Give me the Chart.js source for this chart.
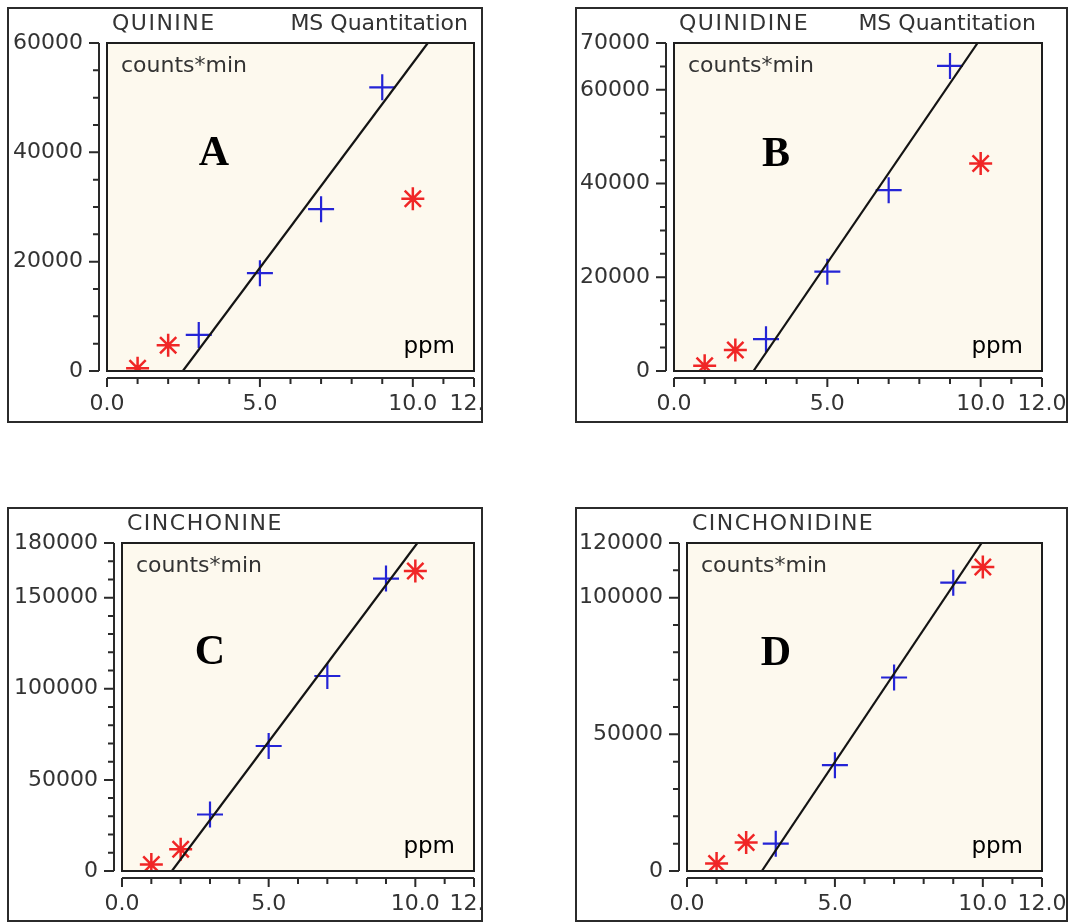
<!DOCTYPE html>
<html>
<head>
<meta charset="utf-8">
<script src="https://cdn.jsdelivr.net/npm/chart.js@4"></script>
<style>
  body { margin: 0; background: #fff; width: 1069px; height: 923px; position: relative; overflow: hidden; }
  .panel { position: absolute; border: 2px solid #2b2b2b; background: #fff; overflow: hidden; box-sizing: border-box; }
  .panel canvas { display: block; }
</style>
</head>
<body>
<div class="panel" id="pA"><canvas id="cA"></canvas></div>
<div class="panel" id="pB"><canvas id="cB"></canvas></div>
<div class="panel" id="pC"><canvas id="cC"></canvas></div>
<div class="panel" id="pD"><canvas id="cD"></canvas></div>
<script>
// concentrations (ppm)
const xTicks = [0, 5, 10, 12];
const starX = [1, 2, 10];       // red stars (excluded points)
const plusX = [3, 5, 7, 9];     // blue crosses (calibration points)

// QUININE
const quinineStar = [500, 4700, 31500];
const quininePlus = [6600, 17900, 29600, 51900];
const quinineFitX = [2.48, 10.49];
const quinineFitY = [0, 60000];
const quinineTicks = [0, 20000, 40000, 60000];

// QUINIDINE
const quinidineStar = [1100, 4500, 44300];
const quinidinePlus = [6800, 21200, 38600, 65100];
const quinidineFitX = [2.59, 9.9];
const quinidineFitY = [0, 70000];
const quinidineTicks = [0, 20000, 40000, 60000, 70000];

// CINCHONINE
const cinchonineStar = [3500, 11900, 164600];
const cinchoninePlus = [31000, 68600, 107000, 160500];
const cinchonineFitX = [1.70, 10.07];
const cinchonineFitY = [0, 180000];
const cinchonineTicks = [0, 50000, 100000, 150000, 180000];

// CINCHONIDINE
const cinchonidineStar = [2700, 10400, 111200];
const cinchonidinePlus = [10000, 38700, 70800, 105500];
const cinchonidineFitX = [2.53, 9.96];
const cinchonidineFitY = [0, 120000];
const cinchonidineTicks = [0, 50000, 100000, 120000];

// layout: frame and plot area in page pixels
const panels = [
  { id: 'A', name: 'QUININE', sub: 'MS Quantitation', frame: [7, 7, 483, 423], area: [107, 43, 474, 371],
    letterAt: [107, 111], star: quinineStar, plus: quininePlus, fitX: quinineFitX, fitY: quinineFitY,
    yTicks: quinineTicks, yMax: 60000, yMinor: 5000 },
  { id: 'B', name: 'QUINIDINE', sub: 'MS Quantitation', frame: [575, 7, 1068, 423], area: [674, 43, 1042, 371],
    letterAt: [102, 112], star: quinidineStar, plus: quinidinePlus, fitX: quinidineFitX, fitY: quinidineFitY,
    yTicks: quinidineTicks, yMax: 70000, yMinor: 5000 },
  { id: 'C', name: 'CINCHONINE', sub: '', frame: [7, 507, 483, 922], area: [122, 543, 474, 871],
    letterAt: [88, 110], star: cinchonineStar, plus: cinchoninePlus, fitX: cinchonineFitX, fitY: cinchonineFitY,
    yTicks: cinchonineTicks, yMax: 180000, yMinor: 10000 },
  { id: 'D', name: 'CINCHONIDINE', sub: '', frame: [575, 507, 1068, 922], area: [687, 543, 1042, 871],
    letterAt: [89, 111], star: cinchonidineStar, plus: cinchonidinePlus, fitX: cinchonidineFitX, fitY: cinchonidineFitY,
    yTicks: cinchonidineTicks, yMax: 120000, yMinor: 10000 }
];

const sans = "'DejaVu Sans', sans-serif";

function framePlugin(p) {
  return {
    id: 'frame' + p.id,
    beforeDraw(chart) {
      const a = chart.chartArea, ctx = chart.ctx;
      ctx.save();
      ctx.fillStyle = '#fdf9ee';
      ctx.fillRect(a.left, a.top, a.right - a.left, a.bottom - a.top);
      ctx.restore();
    },
    afterDatasetsDraw(chart) {
      const a = chart.chartArea, ctx = chart.ctx;
      const xs = chart.scales.x, ys = chart.scales.y;
      ctx.save();
      ctx.strokeStyle = '#1e1e1e';
      ctx.lineWidth = 2;
      ctx.strokeRect(a.left, a.top, a.right - a.left, a.bottom - a.top);

      // offset y axis
      ctx.strokeStyle = '#2a2a2a';
      const yx = a.left - 8;
      ctx.beginPath();
      ctx.moveTo(yx, ys.getPixelForValue(p.yMax));
      ctx.lineTo(yx, ys.getPixelForValue(0));
      for (let v = 0; v <= p.yMax; v += p.yMinor) {
        const py = ys.getPixelForValue(v);
        const len = p.yTicks.includes(v) ? 10 : 6;
        ctx.moveTo(yx, py);
        ctx.lineTo(yx - len, py);
      }
      // offset x axis
      const xy = a.bottom + 7;
      ctx.moveTo(xs.getPixelForValue(0), xy);
      ctx.lineTo(xs.getPixelForValue(12), xy);
      for (let v = 0; v <= 12; v++) {
        const px = xs.getPixelForValue(v);
        const len = xTicks.includes(v) ? 9 : 6;
        ctx.moveTo(px, xy);
        ctx.lineTo(px, xy + len);
      }
      ctx.stroke();

      // texts
      ctx.textBaseline = 'middle';
      ctx.fillStyle = '#333';
      ctx.font = '22px ' + sans;
      ctx.textAlign = 'left';
      ctx.letterSpacing = '1.5px';
      ctx.fillText(p.name, a.left + 5, a.top - 19);
      ctx.letterSpacing = '0px';
      if (p.sub) {
        ctx.textAlign = 'right';
        ctx.fillText(p.sub, a.right - 6, a.top - 19);
      }
      ctx.textAlign = 'left';
      ctx.fillText('counts*min', a.left + 14, a.top + 23);
      ctx.fillStyle = '#000';
      ctx.font = '23px ' + sans;
      ctx.textAlign = 'right';
      ctx.fillText('ppm', a.right - 19, a.bottom - 24);
      ctx.textAlign = 'center';
      ctx.font = "bold 42px 'Liberation Serif', serif";
      ctx.fillText(p.id, a.left + p.letterAt[0], a.top + p.letterAt[1]);
      ctx.restore();
    }
  };
}

function makePanel(p) {
  const div = document.getElementById('p' + p.id);
  const canvas = document.getElementById('c' + p.id);
  const [fx0, fy0, fx1, fy1] = p.frame;
  div.style.left = fx0 + 'px';
  div.style.top = fy0 + 'px';
  div.style.width = (fx1 - fx0) + 'px';
  div.style.height = (fy1 - fy0) + 'px';
  const inL = fx0 + 2, inT = fy0 + 2, inW = fx1 - fx0 - 4, inH = fy1 - fy0 - 4;
  canvas.width = inW; canvas.height = inH;
  canvas.style.width = inW + 'px'; canvas.style.height = inH + 'px';
  const [ax0, ay0, ax1, ay1] = p.area;
  const yw = ax0 - inL, padTop = ay0 - inT, padRight = inL + inW - ax1, xh = inT + inH - ay1;

  new Chart(canvas, {
    type: 'scatter',
    data: {
      datasets: [
        { data: p.fitX.map((x, i) => ({ x: x, y: p.fitY[i] })), showLine: true, borderColor: '#141414',
          borderWidth: 2.2, pointRadius: 0, clip: 0 },
        { data: plusX.map((x, i) => ({ x: x, y: p.plus[i] })), pointStyle: 'cross', pointRadius: 13,
          borderColor: '#2424d6', borderWidth: 2.2, clip: 0 },
        { data: starX.map((x, i) => ({ x: x, y: p.star[i] })), pointStyle: 'star', pointRadius: 11.5,
          borderColor: '#f02626', borderWidth: 2.5, clip: 0 }
      ]
    },
    options: {
      responsive: false,
      animation: false,
      layout: { autoPadding: false, padding: { top: padTop, right: padRight, left: 0, bottom: 0 } },
      plugins: { legend: { display: false }, tooltip: { enabled: false } },
      scales: {
        x: {
          type: 'linear', min: 0, max: 12,
          grid: { display: false, drawTicks: false }, border: { display: false },
          afterBuildTicks: s => { s.ticks = xTicks.map(v => ({ value: v })); },
          afterFit: s => { s.height = xh; s.paddingLeft = 0; s.paddingRight = 0; },
          ticks: { padding: 20, color: '#333', maxRotation: 0, autoSkip: false,
                   font: { family: sans, size: 22 }, callback: v => v.toFixed(1) }
        },
        y: {
          type: 'linear', min: 0, max: p.yMax,
          grid: { display: false, drawTicks: false }, border: { display: false },
          afterBuildTicks: s => { s.ticks = p.yTicks.map(v => ({ value: v })); },
          afterFit: s => { s.width = yw; s.paddingTop = 0; s.paddingBottom = 0; },
          ticks: { padding: 24, color: '#333', autoSkip: false,
                   font: { family: sans, size: 22 }, callback: v => String(v) }
        }
      }
    },
    plugins: [framePlugin(p)]
  });
}

panels.forEach(makePanel);
</script>
</body>
</html>
